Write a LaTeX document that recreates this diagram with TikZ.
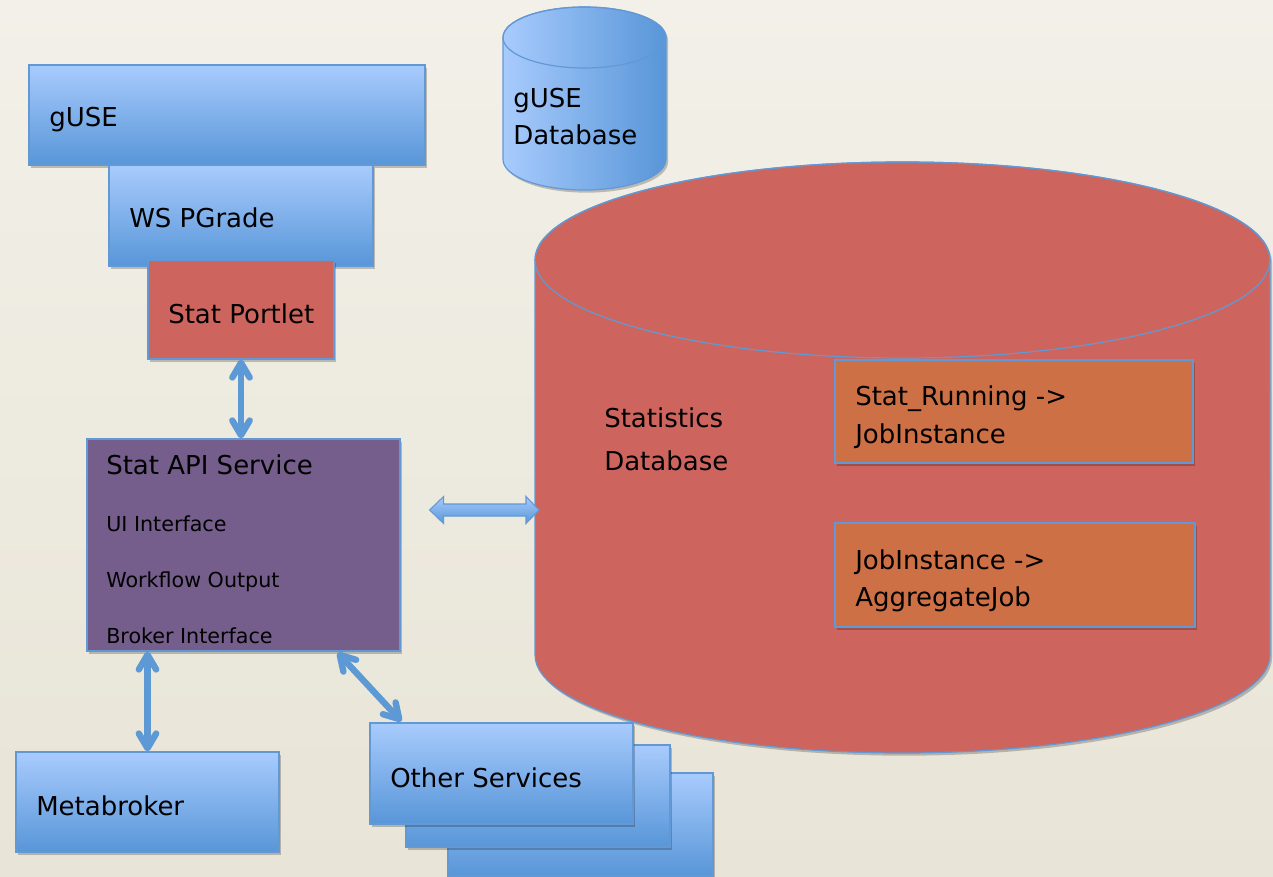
\documentclass[tikz,border=0pt]{standalone}
\usepackage{fontspec}
\setmainfont{DejaVu Sans}
\usetikzlibrary{arrows.meta,shadows,calc}
\definecolor{bgtop}{RGB}{242,240,232}
\definecolor{bgbot}{RGB}{232,228,215}
\definecolor{bluetop}{RGB}{168,203,253}
\definecolor{bluebot}{RGB}{88,150,216}
\definecolor{edgeblue}{RGB}{98,152,212}
\definecolor{redfill}{RGB}{205,101,94}
\definecolor{purplefill}{RGB}{117,94,140}
\definecolor{orangefill}{RGB}{205,112,69}
\definecolor{arrowblue}{RGB}{93,153,212}
\begin{document}
\begin{tikzpicture}[x=0.75pt,y=-0.75pt,
  shadowed/.style={drop shadow={shadow xshift=1.5pt,shadow yshift=-2pt,fill=black,opacity=0.22}},
  box/.style={rectangle,draw=edgeblue,line width=0.9pt,inner sep=0pt,shadowed},
  bluebox/.style={box,top color=bluetop,bottom color=bluebot},
  redbox/.style={box,fill=redfill},
  purplebox/.style={box,fill=purplefill},
  orangebox/.style={box,fill=orangefill},
  bigtxt/.style={font=\fontsize{19.5}{24}\selectfont,anchor=base west,inner sep=0pt,text=black},
  smalltxt/.style={font=\fontsize{15.5}{19}\selectfont,anchor=base west,inner sep=0pt,text=black},
  link/.style={draw=arrowblue,line width=4.8pt,
    {Straight Barb[length=11pt,width=13pt,round]}-{Straight Barb[length=11pt,width=13pt,round]}},
  blockarrow/.style={draw=edgeblue,line width=0.8pt,top color=bluetop,bottom color=bluebot},
  cylsmall/.style={draw=edgeblue,line width=0.9pt,left color=bluetop,right color=bluebot,shadowed},
  cylbig/.style={draw=edgeblue,line width=0.9pt,fill=redfill,shadowed},
  rim/.style={draw=edgeblue,line width=0.9pt}
]
% background
\shade[top color=bgtop,bottom color=bgbot] (0,0) rectangle (1273,877);
\useasboundingbox (0,0) rectangle (1273,877);

% small cylinder (gUSE Database)
\path[cylsmall] (503,37.5) -- (503,159.5)
  arc[start angle=180,end angle=360,x radius=61.125pt,y radius=22.875pt]
  -- (666,37.5)
  arc[start angle=0,end angle=180,x radius=61.125pt,y radius=22.875pt] -- cycle;
\draw[rim] (584.5,37.5) ellipse[x radius=61.125pt,y radius=22.875pt];

% big cylinder (Statistics Database)
\path[cylbig] (535,260) -- (535,655)
  arc[start angle=180,end angle=360,x radius=275.625pt,y radius=73.5pt]
  -- (1270,260)
  arc[start angle=0,end angle=180,x radius=275.625pt,y radius=73.5pt] -- cycle;
\draw[rim] (902.5,260) ellipse[x radius=275.625pt,y radius=73.5pt];
\coordinate (dbwall) at (539,510);

% boxes
\node[bluebox,minimum width=297pt,minimum height=75pt] (guse) at (227,115) {};
\node[bluebox,minimum width=198pt,minimum height=75.75pt] (wspgrade) at (241,215.5) {};
\node[redbox,minimum width=139.5pt,minimum height=74.25pt] (portlet) at (241,309.5) {};
\node[purplebox,minimum width=234.75pt,minimum height=159pt] (api) at (243.5,545) {};
\node[bluebox,minimum width=197.25pt,minimum height=75pt] (meta) at (147.5,802) {};
\node[bluebox,minimum width=198.75pt,minimum height=77.25pt] (other3) at (580.5,824.5) {};
\node[bluebox,minimum width=198pt,minimum height=76.5pt] (other2) at (538,796) {};
\node[bluebox,minimum width=197.25pt,minimum height=75.75pt] (other1) at (501.5,773.5) {};
\node[orangebox,minimum width=268.5pt,minimum height=77.25pt] (statrun) at (1014,411.5) {};
\node[orangebox,minimum width=270pt,minimum height=78pt] (jobinst) at (1015,575) {};

% texts
\node[bigtxt] (tguse) at (49,127) {gUSE};
\node[bigtxt] (twsp) at (129,228) {WS PGrade};
\node[bigtxt] (tportlet) at (168,323) {Stat Portlet};
\node[bigtxt] (tapi) at (106,474) {Stat API Service};
\node[smalltxt] (tui) at (106,531) {UI Interface};
\node[smalltxt] (twf) at (106,587) {Workflow Output};
\node[smalltxt] (tbi) at (106,643) {Broker Interface};
\node[bigtxt] (tmeta) at (36,815) {Metabroker};
\node[bigtxt] (tother) at (390,787) {Other Services};
\node[bigtxt] (tgdb1) at (513,108) {gUSE};
\node[bigtxt] (tgdb2) at (513,145) {Database};
\node[bigtxt] (tsdb1) at (604,427) {Statistics};
\node[bigtxt] (tsdb2) at (604,470) {Database};
\node[bigtxt] (tsr1) at (855,405) {Stat\_Running ->};
\node[bigtxt] (tsr2) at (855,443) {JobInstance};
\node[bigtxt] (tji1) at (855,569) {JobInstance ->};
\node[bigtxt] (tji2) at (855,606) {AggregateJob};

% connectors
\draw[link] (portlet.south) -- (portlet.south |- api.north);
\draw[link] (meta.north |- api.south) -- (meta.north);
\draw[link] ($(api.south east)+(-63,1)$) -- ($(other1.north west)+(32,-1)$);

% block double arrow between API service and Statistics Database
\coordinate (arrL) at ($(api.east |- dbwall)+(29,0)$);
\draw[blockarrow] (arrL) -- ++(14,-13.5) -- ++(0,7.5) -- ($(dbwall)+(-13,-6)$) -- ++(0,-7.5)
  -- (dbwall) -- ++(-13,13.5) -- ++(0,-7.5) -- ($(arrL)+(14,6)$) -- ++(0,7.5) -- cycle;
\end{tikzpicture}
\end{document}
